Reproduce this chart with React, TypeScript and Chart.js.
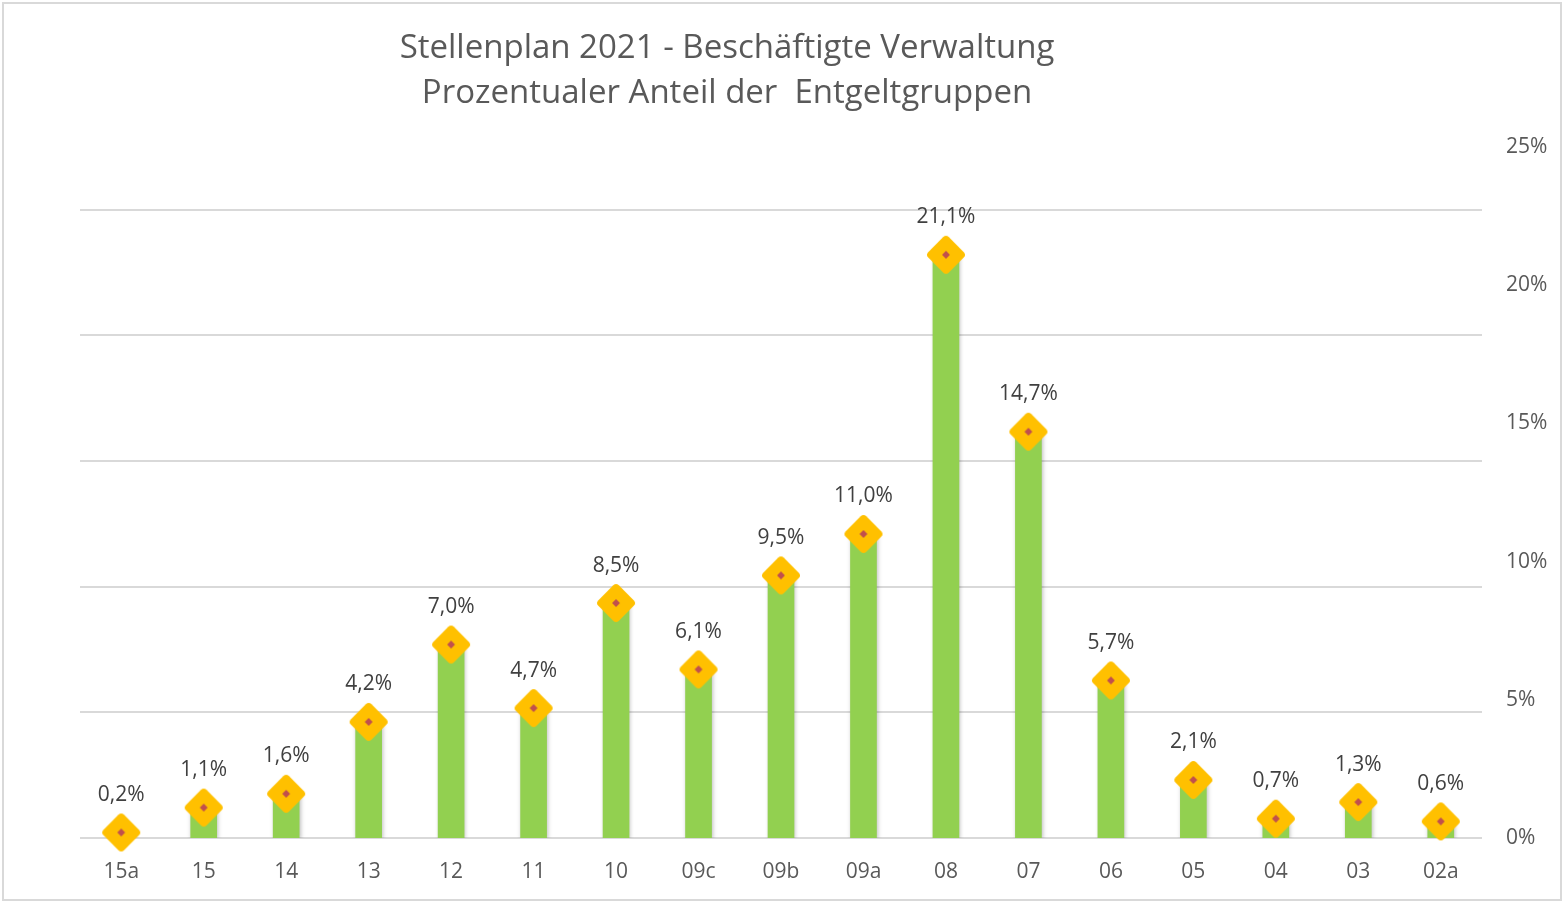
import React, { useEffect, useRef } from "react";
import { Chart, registerables } from "chart.js";

Chart.register(...registerables);

const categories = ["15a", "15", "14", "13", "12", "11", "10", "09c", "09b", "09a", "08", "07", "06", "05", "04", "03", "02a"];
const shares = [0.2, 1.1, 1.6, 4.2, 7.0, 4.7, 8.5, 6.1, 9.5, 11.0, 21.1, 14.7, 5.7, 2.1, 0.7, 1.3, 0.6];
const titleLines = ["Stellenplan 2021 - Beschäftigte Verwaltung", "Prozentualer Anteil der  Entgeltgruppen"];
const rightTicks = [0, 5, 10, 15, 20, 25];

const FONT = "'Open Sans', 'DejaVu Sans', sans-serif";

function makeDiamond(): HTMLCanvasElement {
  const c = document.createElement("canvas");
  c.width = 42;
  c.height = 42;
  const ctx = c.getContext("2d")!;
  ctx.translate(21, 21);
  ctx.rotate(Math.PI / 4);
  const s = 29;
  const r = 4;
  ctx.beginPath();
  ctx.moveTo(-s / 2 + r, -s / 2);
  ctx.arcTo(s / 2, -s / 2, s / 2, s / 2, r);
  ctx.arcTo(s / 2, s / 2, -s / 2, s / 2, r);
  ctx.arcTo(-s / 2, s / 2, -s / 2, -s / 2, r);
  ctx.arcTo(-s / 2, -s / 2, s / 2, -s / 2, r);
  ctx.closePath();
  ctx.fillStyle = "#FFC000";
  ctx.fill();
  ctx.fillStyle = "#C0504D";
  ctx.fillRect(-2.8, -2.8, 5.6, 5.6);
  return c;
}

const fmt = (v: number) => v.toFixed(1).replace(".", ",") + "%";

export default function App() {
  const ref = useRef<HTMLCanvasElement | null>(null);

  useEffect(() => {
    if (!ref.current) return;
    const diamond = makeDiamond();

    const decor = {
      id: "decor",
      beforeDraw(chart: any) {
        const ctx = chart.ctx;
        ctx.save();
        ctx.fillStyle = "#ffffff";
        ctx.fillRect(0, 0, chart.width, chart.height);
        ctx.strokeStyle = "#d9d9d9";
        ctx.lineWidth = 2;
        ctx.strokeRect(3, 3, 1558, 897);
        ctx.fillStyle = "#595959";
        ctx.font = `33px ${FONT}`;
        ctx.textAlign = "center";
        ctx.textBaseline = "middle";
        ctx.fillText(titleLines[0], 727, 49);
        ctx.fillText(titleLines[1], 727, 94);
        ctx.restore();
      },
      beforeDatasetDraw(chart: any, args: any) {
        const ctx = chart.ctx;
        ctx.save();
        if (args.meta.type === "bar") {
          ctx.shadowColor = "rgba(0,0,0,0.25)";
          ctx.shadowBlur = 4;
          ctx.shadowOffsetX = 1;
          ctx.shadowOffsetY = 1;
        }
      },
      afterDatasetDraw(chart: any) {
        chart.ctx.restore();
      },
      afterDatasetsDraw(chart: any) {
        const ctx = chart.ctx;
        const meta = chart.getDatasetMeta(1);
        ctx.save();
        ctx.fillStyle = "#404040";
        ctx.font = `21px ${FONT}`;
        ctx.textAlign = "center";
        ctx.textBaseline = "middle";
        meta.data.forEach((pt: any, i: number) => {
          ctx.fillText(fmt(shares[i]), pt.x, pt.y - 37.5);
        });
        ctx.restore();
      },
    };

    const chart = new Chart(ref.current, {
      type: "bar",
      data: {
        labels: categories,
        datasets: [
          {
            type: "bar",
            data: shares,
            backgroundColor: "#92D050",
            borderWidth: 0,
            barThickness: 26,
            yAxisID: "y1",
            order: 2,
          } as any,
          {
            type: "line",
            data: shares,
            showLine: false,
            pointStyle: diamond,
            pointRadius: 19,
            pointHoverRadius: 19,
            yAxisID: "y1",
            clip: false,
            order: 1,
          } as any,
        ],
      },
      options: {
        responsive: false,
        animation: false,
        layout: { padding: { left: 80, right: 0, top: 147, bottom: 0 } },
        plugins: {
          legend: { display: false },
          tooltip: { enabled: false },
          title: { display: false },
        },
        scales: {
          x: {
            type: "category",
            grid: { display: false, drawTicks: false },
            border: { display: false },
            ticks: { color: "#595959", font: { size: 21, family: FONT }, padding: 21, maxRotation: 0 },
            afterFit: (s: any) => { s.height = 64; },
          },
          y: {
            position: "left",
            min: 0,
            max: 27.5,
            ticks: { display: false, stepSize: 5 },
            grid: { color: "#d9d9d9", lineWidth: 2, drawTicks: false },
            border: { display: false },
            afterBuildTicks: (s: any) => { s.ticks = s.ticks.filter((t: any) => t.value <= 25.001); },
            afterFit: (s: any) => { s.width = 0; },
          },
          y1: {
            position: "right",
            min: 0,
            max: 25,
            afterBuildTicks: (s: any) => { s.ticks = rightTicks.map((v) => ({ value: v })); },
            ticks: {
              color: "#595959",
              font: { size: 21, family: FONT },
              padding: 24,
              callback: (v: any) => v + "%",
            },
            grid: { display: false, drawTicks: false },
            border: { display: false },
            afterFit: (s: any) => { s.width = 82; },
          },
        },
      } as any,
      plugins: [decor],
    });
    return () => chart.destroy();
  }, []);

  return (
    <div style={{ position: "absolute", left: 0, top: 0, width: 1564, height: 902, background: "#fff" }}>
      <canvas ref={ref} width={1564} height={902} />
    </div>
  );
}
